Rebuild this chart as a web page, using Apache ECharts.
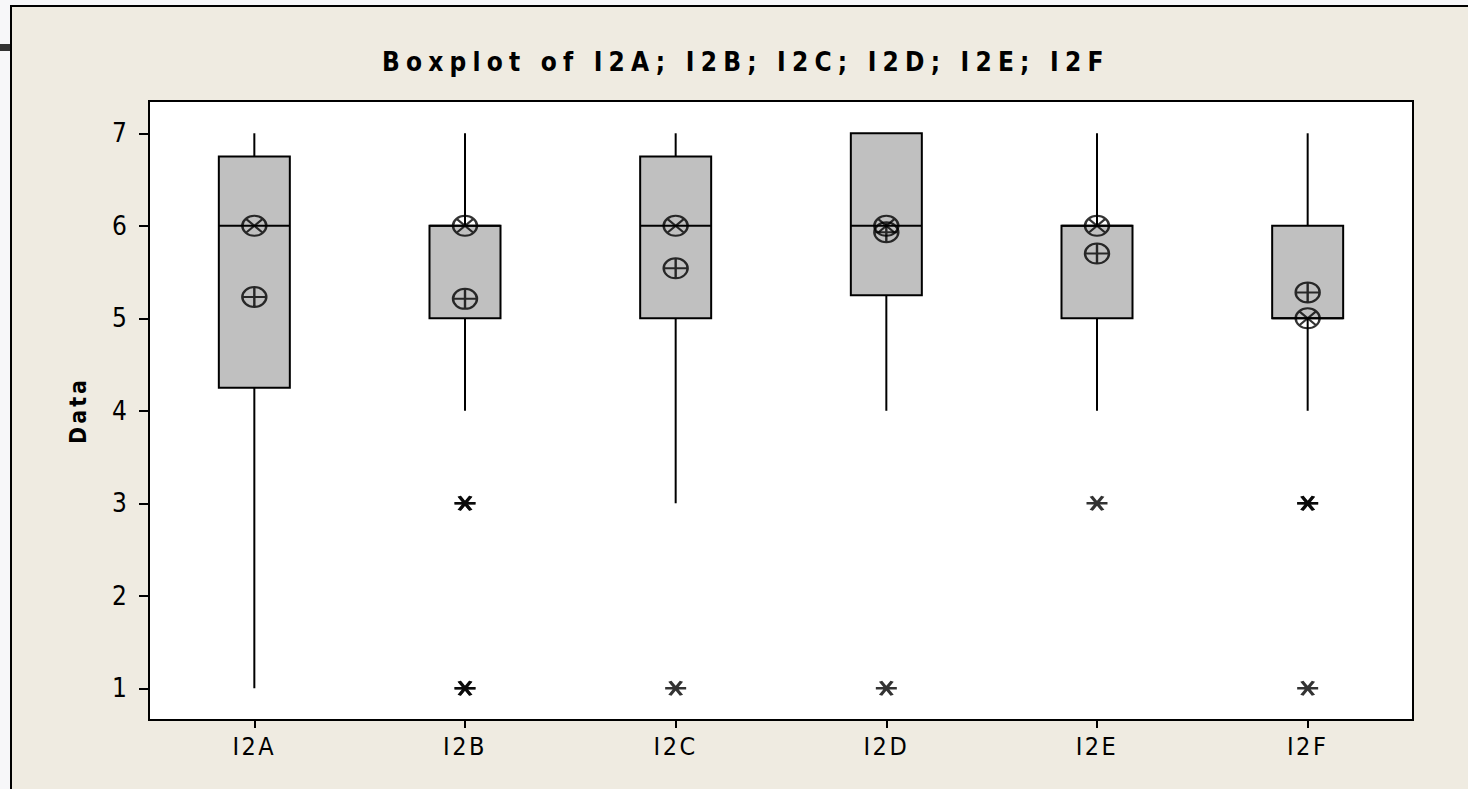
<!DOCTYPE html>
<html>
<head>
<meta charset="utf-8">
<script src="https://cdn.jsdelivr.net/npm/echarts@6/dist/echarts.min.js"></script>
<style>
html, body { margin: 0; padding: 0; background: #f7f7f9; overflow: hidden; }
#page { position: relative; width: 1468px; height: 789px; overflow: hidden; background: #f7f7f9; }
#frame { position: absolute; left: 10px; top: 5px; width: 1458px; height: 784px; background: #efebe1; }
#lineL { position: absolute; left: 10px; top: 5px; width: 2px; height: 784px; background: #000; }
#lineT { position: absolute; left: 10px; top: 5px; width: 1458px; height: 2px; background: #000; }
#stub { position: absolute; left: 0; top: 44px; width: 10px; height: 7px; background: #333; }
#c { position: absolute; left: 0; top: 0; width: 1468px; height: 789px; }
#c text[style*="26px"][style*="bold"] { letter-spacing: 6.2px; }
#c text[style*="23px"] { letter-spacing: 3px; }
#c text[style*="25px"] { letter-spacing: 2.5px; }
</style>
</head>
<body>
<div id="page">
<div id="frame"></div>
<div id="lineL"></div>
<div id="lineT"></div>
<div id="stub"></div>
<div id="c"></div>
</div>
<script>
// ---- data ----
const categories = ['I2A', 'I2B', 'I2C', 'I2D', 'I2E', 'I2F'];
const whiskerLow = [1, 4, 3, 4, 4, 4];
const q1 = [4.25, 5, 5, 5.25, 5, 5];
const medians = [6, 6, 6, 6, 6, 5];
const q3 = [6.75, 6, 6.75, 7, 6, 6];
const whiskerHigh = [7, 7, 7, 7, 7, 7];
const means = [5.23, 5.21, 5.54, 5.93, 5.70, 5.28];
const outliers = [[], [3, 3, 1, 1], [1], [1], [3], [3, 3, 1]];
const yTicks = [1, 2, 3, 4, 5, 6, 7];
const titleText = 'Boxplot of I2A; I2B; I2C; I2D; I2E; I2F';
const yName = 'Data';

// ---- build ----
const F = "'DejaVu Sans Condensed', 'DejaVu Sans', sans-serif";
const boxData = categories.map((c, i) => [i, whiskerLow[i], q1[i], medians[i], q3[i], whiskerHigh[i]]);
const outlierData = [];
outliers.forEach((arr, i) => arr.forEach(v => outlierData.push([i, v])));
const medianData = categories.map((c, i) => [i, medians[i]]);
const meanData = categories.map((c, i) => [i, means[i]]);

const circle = 'M0 -1A1 1 0 1 1 0 1A1 1 0 1 1 0 -1Z';
const otimes = 'path://' + circle + 'M-0.707 -0.707L0.707 0.707M0.707 -0.707L-0.707 0.707';
const oplus = 'path://' + circle + 'M-1 0L1 0M0 -1L0 1';
const aster = 'path://M-1 0L1 0M-0.55 -0.7L0.55 0.7M0.55 -0.7L-0.55 0.7';
const markerStyle = { color: 'rgba(0,0,0,0)', borderColor: '#000', borderWidth: 2.2 };

const chart = echarts.init(document.getElementById('c'), null, { renderer: 'svg' });
chart.setOption({
  animation: false,
  title: {
    text: titleText, left: 377, top: 44,
    textStyle: { fontSize: 26, fontWeight: 'bold', color: '#000', fontFamily: F }
  },
  grid: {
    left: 149, top: 101, width: 1264, height: 619,
    show: true, backgroundColor: '#ffffff', borderColor: '#000', borderWidth: 2
  },
  xAxis: {
    type: 'category', data: categories,
    axisLine: { show: false },
    axisTick: { show: true, alignWithLabel: true, length: 8, lineStyle: { color: '#000', width: 2 } },
    axisLabel: { margin: 14, fontSize: 25, color: '#000', fontFamily: F },
    splitLine: { show: false }
  },
  yAxis: {
    type: 'value', min: 0.657, max: 7.349,
    axisLine: { show: false },
    splitLine: { show: false },
    axisTick: { show: true, length: 10, lineStyle: { color: '#000', width: 2 }, customValues: yTicks },
    axisLabel: { margin: 22, fontSize: 26, color: '#000', fontFamily: F, customValues: yTicks },
    name: yName, nameLocation: 'middle', nameGap: 60, nameRotate: 90,
    nameTextStyle: { fontSize: 23, fontWeight: 'bold', color: '#000', fontFamily: F }
  },
  series: [
    {
      type: 'custom', silent: true, z: 2,
      data: boxData,
      encode: { x: 0, y: [1, 2, 3, 4, 5] },
      renderItem: function (params, api) {
        const i = api.value(0);
        const pLow = api.coord([i, api.value(1)]);
        const pQ1 = api.coord([i, api.value(2)]);
        const pMed = api.coord([i, api.value(3)]);
        const pQ3 = api.coord([i, api.value(4)]);
        const pHigh = api.coord([i, api.value(5)]);
        const x = pMed[0];
        const half = 35.5;
        const ls = { stroke: '#000', lineWidth: 2 };
        return {
          type: 'group',
          children: [
            { type: 'line', shape: { x1: x, y1: pHigh[1], x2: x, y2: pQ3[1] }, style: ls },
            { type: 'line', shape: { x1: x, y1: pQ1[1], x2: x, y2: pLow[1] }, style: ls },
            { type: 'rect', shape: { x: x - half, y: pQ3[1], width: half * 2, height: pQ1[1] - pQ3[1] },
              style: { fill: '#c0c0c0', stroke: '#000', lineWidth: 2 } },
            { type: 'line', shape: { x1: x - half, y1: pMed[1], x2: x + half, y2: pMed[1] }, style: ls }
          ]
        };
      }
    },
    {
      type: 'scatter', silent: true, z: 3, data: outlierData,
      symbol: aster, symbolSize: [21, 14],
      itemStyle: { color: 'rgba(0,0,0,0)', borderColor: '#000', borderWidth: 3 }
    },
    {
      type: 'scatter', silent: true, z: 4, data: medianData,
      symbol: otimes, symbolSize: [24, 20], itemStyle: markerStyle
    },
    {
      type: 'scatter', silent: true, z: 4, data: meanData,
      symbol: oplus, symbolSize: [24, 20], itemStyle: markerStyle
    }
  ]
});
</script>
</body>
</html>
